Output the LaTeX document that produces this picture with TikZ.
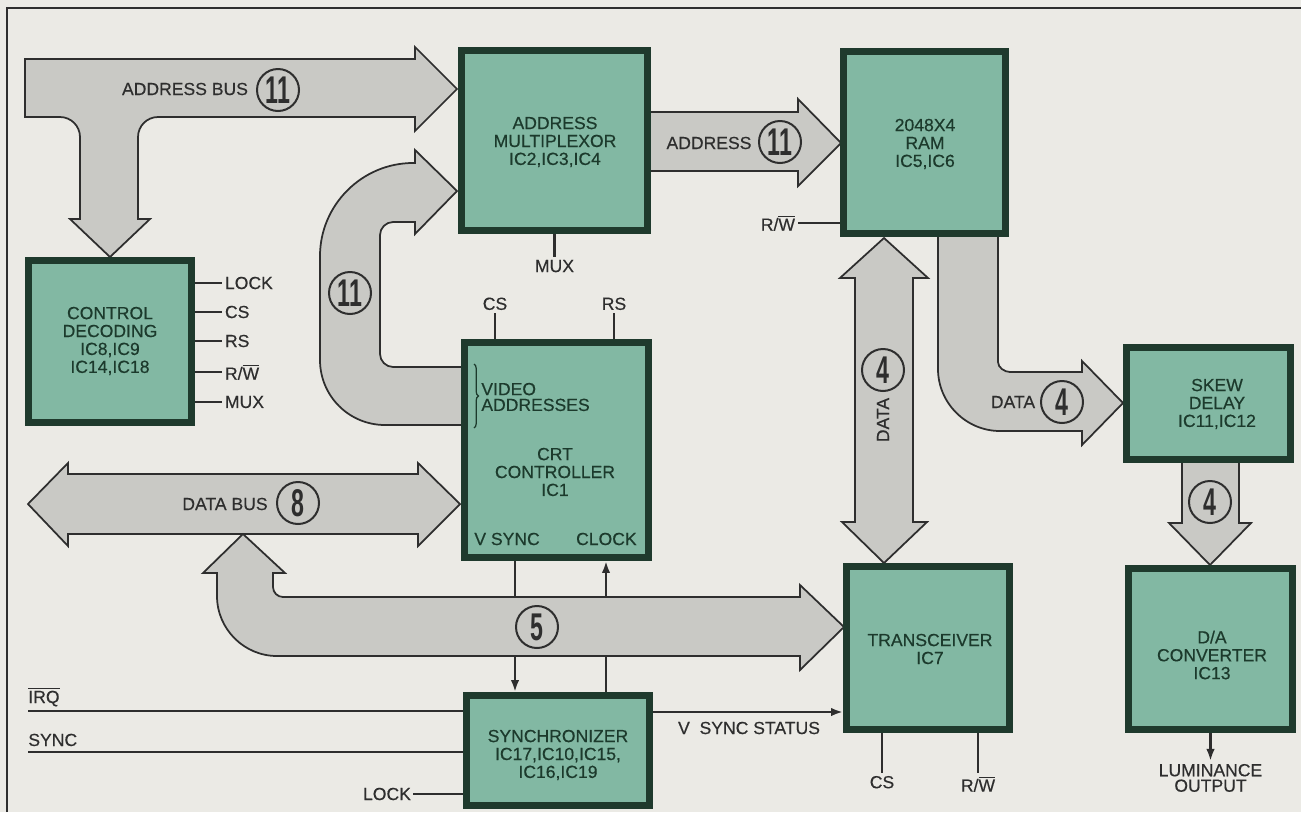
\documentclass[tikz,border=0pt]{standalone}
\usepackage{fontspec}
\setmainfont{Liberation Sans}
\newfontfamily\medfont[FakeBold=0.4]{Liberation Sans}
\usepackage{graphicx}
\usetikzlibrary{arrows.meta,decorations.pathreplacing}
\definecolor{bgc}{HTML}{EBEAE5}
\definecolor{boxfill}{HTML}{82B8A3}
\definecolor{boxline}{HTML}{1F3A2D}
\definecolor{busfill}{HTML}{C9C9C5}
\definecolor{ink}{HTML}{2E2E2E}
\definecolor{boxink}{HTML}{1C3A2C}
\newcommand{\busnum}[1]{\scalebox{0.6}[1]{\bfseries #1}}
\newcommand{\rwbar}{R/$\overline{\hbox{W}}$}
\pgfdeclarelayer{back}
\pgfdeclarelayer{mid}
\pgfsetlayers{back,mid,main}
\begin{document}
\begin{tikzpicture}[x=0.02cm,y=-0.02cm,
 blk/.style={draw=boxline, line width=0.14cm, fill=boxfill, inner sep=0pt},
 btxt/.style={align=center, text=boxink, inner sep=0pt, font=\medfont\fontsize{10}{10.2}\selectfont},
 bus/.style={fill=busfill, draw=ink, line width=0.035cm, line join=miter},
 num/.style={circle, draw=ink, line width=0.04cm, fill=busfill, minimum size=0.84cm, inner sep=0pt, text=ink, font=\fontsize{22}{22}\selectfont},
 lbl/.style={text=ink, inner sep=1pt, font=\medfont\fontsize{10}{11}\selectfont},
 pin/.style={draw=ink, line width=0.05cm},
 sig/.style={draw=ink, line width=0.05cm, -{Latex[length=0.24cm,width=0.17cm]}},
]
\useasboundingbox (0,0) rectangle (1301,812);

% blocks
\node[blk, minimum width=3.72cm, minimum height=3.60cm] (am) at (554.5,140.5) {};
\node[blk, minimum width=3.24cm, minimum height=3.64cm] (ram) at (924.5,142.5) {};
\node[blk, minimum width=3.26cm, minimum height=3.24cm] (cd) at (110,341.5) {};
\node[blk, minimum width=3.68cm, minimum height=4.30cm] (crt) at (556.5,450) {};
\node[blk, minimum width=3.66cm, minimum height=2.20cm] (syn) at (558,750.5) {};
\node[blk, minimum width=3.26cm, minimum height=3.26cm] (trx) at (928,648) {};
\node[blk, minimum width=3.28cm, minimum height=2.24cm] (skew) at (1208.5,403.5) {};
\node[blk, minimum width=3.28cm, minimum height=3.22cm] (da) at (1210.5,649) {};

% block texts
\node[btxt] (amt) at (555,142) {ADDRESS\\MULTIPLEXOR\\IC2,IC3,IC4};
\node[btxt] (ramt) at (925,144) {2048X4\\RAM\\IC5,IC6};
\node[btxt] (cdt) at (110,341) {CONTROL\\DECODING\\IC8,IC9\\IC14,IC18};
\node[btxt] (crtt) at (555,472) {CRT\\CONTROLLER\\IC1};
\node[btxt] (synt) at (558,755) {SYNCHRONIZER\\IC17,IC10,IC15,\\IC16,IC19};
\node[btxt] (trxt) at (930,649) {TRANSCEIVER\\IC7};
\node[btxt] (skewt) at (1217,404) {SKEW\\DELAY\\IC11,IC12};
\node[btxt] (dat) at (1212,655) {D/A\\CONVERTER\\IC13};
\node[btxt, align=left, anchor=west, font=\medfont\fontsize{10}{9}\selectfont] (vid) at (481,397) {VIDEO\\ADDRESSES};
\node[btxt, anchor=west] (vs) at (474,539) {V SYNC};
\node[btxt, anchor=east] (ck) at (637,539) {CLOCK};
\draw[boxink, line width=0.025cm, decorate, decoration={brace, amplitude=2.5pt}] (474,364) -- (474,428);

% background, frame and lines crossing the buses
\begin{pgfonlayer}{back}
\fill[bgc] (0,0) rectangle (1301,812);
\draw[ink, line width=0.04cm] (7,812) -- (7,8) -- (1301,8);
\coordinate (vsx) at (515,0);
\coordinate (ckx) at (606,0);
\draw[sig] (vsx |- crt.south) -- (vsx |- syn.north);
\draw[sig] (ckx |- syn.north) -- (ckx |- crt.south);
\end{pgfonlayer}

% buses
\begin{pgfonlayer}{mid}
\draw[bus] (25,59) -- (415,59) -- (415,47) -- (457,89) -- (415,131) -- (415,117) -- (158,117) .. controls (147,117) and (138,126) .. (138,137) -- (138,219) -- (150,219) -- (110,257) -- (70,219) -- (80,219) -- (80,137) .. controls (80,126) and (71,117) .. (60,117) -- (25,117) -- cycle;
\draw[bus] (463,367) -- (393,367) .. controls (386,367) and (380,361) .. (380,354) -- (380,235) .. controls (380,228) and (386,222) .. (393,222) -- (415,222) -- (415,234) -- (457,191) -- (415,150) -- (415,163) -- (413,163) .. controls (362,163) and (320,205) .. (320,256) -- (320,360) .. controls (320,396) and (349,425) .. (385,425) -- (463,425) -- cycle;
\draw[bus] (648,112) -- (798,112) -- (798,99) -- (841,143) -- (798,186) -- (798,171) -- (648,171) -- cycle;
\draw[bus] (28,504) -- (68,463) -- (68,474) -- (418,474) -- (418,463) -- (460,504) -- (418,546) -- (418,534) -- (68,534) -- (68,546) -- cycle;
\draw[bus] (243,534) -- (285,573) -- (273,573) -- (273,587) .. controls (273,592.5) and (277.5,597) .. (283,597) -- (800,597) -- (800,585) -- (844,627) -- (800,670) -- (800,656) -- (277,656) .. controls (244,656) and (217,629) .. (217,596) -- (217,573) -- (203,573) -- cycle;
\draw[bus] (884,238) -- (928,278) -- (913,278) -- (913,522) -- (927,522) -- (884,563) -- (842,522) -- (855,522) -- (855,278) -- (840,278) -- cycle;
\draw[bus] (938,234) -- (998,234) -- (998,362) .. controls (998,367.5) and (1004.5,372) .. (1010,372) -- (1082,372) -- (1082,361) -- (1123,403) -- (1082,445) -- (1082,431) -- (1000,431) .. controls (966,431) and (938,403) .. (938,369) -- cycle;
\draw[bus] (1182,460) -- (1239,460) -- (1239,523) -- (1251,523) -- (1210,565) -- (1169,523) -- (1182,523) -- cycle;
\end{pgfonlayer}

% bus labels and widths
\node[lbl] (abl) at (185,89) {ADDRESS BUS};
\node[num] (nA) at (278,90) {\busnum{11}};
\node[lbl] (adl) at (709,143) {ADDRESS};
\node[num] (nB) at (780,142) {\busnum{11}};
\node[num] (nC) at (350,293) {\busnum{11}};
\node[lbl] (dbl) at (225,504) {DATA BUS};
\node[num] (nD) at (298,503) {\busnum{8}};
\node[num] (nE) at (537,627) {\busnum{5}};
\node[num] (nF) at (883,370) {\busnum{4}};
\node[lbl, rotate=90] (dvl) at (883,420) {DATA};
\node[lbl] (drl) at (1013,402) {DATA};
\node[num] (nG) at (1062,402) {\busnum{4}};
\node[num] (nH) at (1210,502) {\busnum{4}};

% control decoding pins
\foreach \yy/\lab in {283/LOCK, 312/CS, 341/RS, 372/{\rwbar}, 402/MUX}
  \draw[pin] (cd.east |- 0,\yy) -- ++(27,0) node[lbl, right] (cdp\yy) {\lab};

% other pins
\draw[pin] (am.south) -- ++(0,23) node[lbl, below] (mux) {MUX};
\draw[pin] (ram.west |- 0,223) -- ++(-42,0) node[lbl, left] (ramrw) {\rwbar};
\draw[pin] (crt.north -| 495,0) -- ++(0,-26) node[lbl, above] (crtcs) {CS};
\draw[pin] (crt.north -| 614,0) -- ++(0,-26) node[lbl, above] (crtrs) {RS};
\draw[pin] (trx.south -| 882,0) -- ++(0,40) node[lbl, below] (trxcs) {CS};
\draw[pin] (trx.south -| 978,0) -- ++(0,40) node[lbl, below] (trxrw) {\rwbar};
\draw[sig] (da.south) -- ++(0,28) node[lbl, below, align=center, font=\medfont\fontsize{10}{8.8}\selectfont] (lum) {LUMINANCE\\OUTPUT};

% synchronizer inputs and output
\coordinate (irq) at (28,711);
\coordinate (snc) at (28,752);
\coordinate (lck) at (413,794);
\draw[pin] (irq) -- (syn.west |- irq);
\draw[pin] (snc) -- (syn.west |- snc);
\draw[pin] (lck) -- (syn.west |- lck);
\node[lbl, anchor=base west, inner sep=0pt] (irqt) at (28,703) {$\overline{\hbox{IRQ}}$};
\node[lbl, anchor=base west, inner sep=0pt] (snct) at (28,746) {SYNC};
\node[lbl, left] (lckt) at (lck) {LOCK};
\draw[sig] (syn.east |- 0,712) -- (trx.west |- 0,712);
\node[lbl, anchor=west] (vss) at (676,728) {V\ \ SYNC STATUS};
\end{tikzpicture}
\end{document}
